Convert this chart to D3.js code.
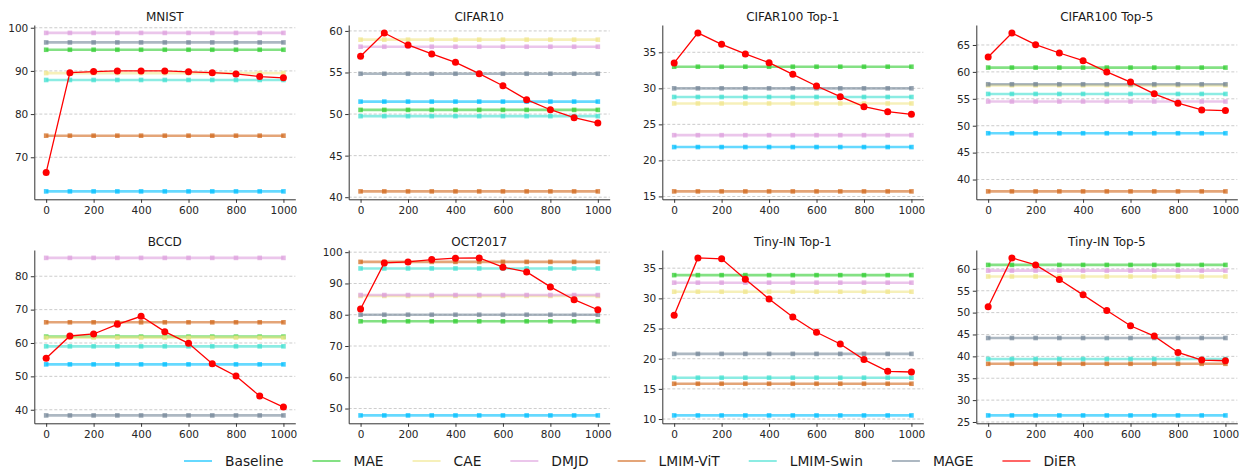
<!DOCTYPE html>
<html><head><meta charset="utf-8">
<script src="https://cdn.jsdelivr.net/npm/d3@7"></script>
<style>
body{margin:0;background:#fff}
svg text{font-family:"DejaVu Sans",sans-serif}
</style>
</head><body>
<svg id="chart" width="1240" height="469"></svg>
<script>
// ---- data ----
const steps = [0, 100, 200, 300, 400, 500, 600, 700, 800, 900, 1000];
const xTicks = [0, 200, 400, 600, 800, 1000];
const methods = ["Baseline", "MAE", "CAE", "DMJD", "LMIM-ViT", "LMIM-Swin", "MAGE", "DiER"];
const colors = ["#00bfff", "#32cd32", "#f0e68c", "#dda0dd", "#d2691e", "#40e0d0", "#778899", "#ff0000"];
const titles = ["MNIST", "CIFAR10", "CIFAR100 Top-1", "CIFAR100 Top-5", "BCCD", "OCT2017", "Tiny-IN Top-1", "Tiny-IN Top-5"];

// constant methods, order: Baseline, MAE, CAE, DMJD, LMIM-ViT, LMIM-Swin, MAGE
const mnistFlat   = [62.1, 94.9, 89.5, 98.8, 75.0, 87.9, 96.6];
const cifar10Flat = [51.5, 50.5, 58.95, 58.1, 40.7, 49.75, 54.85];
const c100t1Flat  = [21.85, 33.0, 27.9, 23.5, 15.7, 28.8, 30.0];
const c100t5Flat  = [48.6, 60.8, 57.5, 54.5, 37.8, 55.9, 57.7];
const bccdFlat    = [53.6, 61.9, 61.6, 85.5, 66.2, 59.0, 38.3];
const octFlat     = [47.8, 77.9, 86.0, 86.3, 96.9, 94.8, 80.0];
const tin1Flat    = [10.6, 33.85, 31.1, 32.6, 15.85, 16.85, 20.8];
const tin5Flat    = [26.5, 60.9, 58.25, 59.6, 38.3, 39.4, 44.2];

// DiER over steps
const mnistDiER   = [66.5, 89.6, 89.85, 90.0, 90.0, 90.0, 89.8, 89.6, 89.3, 88.7, 88.4];
const cifar10DiER = [56.95, 59.76, 58.31, 57.23, 56.22, 54.86, 53.41, 51.73, 50.52, 49.56, 48.92];
const c100t1DiER  = [33.52, 37.69, 36.11, 34.77, 33.56, 31.94, 30.32, 28.84, 27.45, 26.76, 26.39];
const c100t5DiER  = [62.76, 67.24, 65.06, 63.51, 62.08, 60.0, 58.1, 55.92, 54.18, 52.94, 52.81];
const bccdDiER    = [55.4, 62.1, 62.7, 65.6, 68.0, 63.4, 59.9, 53.8, 50.1, 44.1, 40.8];
const octDiER     = [81.84, 96.58, 96.9, 97.65, 98.08, 98.18, 95.2, 93.7, 88.9, 84.8, 81.6];
const tin1DiER    = [27.2, 36.71, 36.55, 33.17, 29.91, 26.92, 24.38, 22.44, 19.85, 17.91, 17.8];
const tin5DiER    = [51.32, 62.51, 60.91, 57.56, 54.06, 50.49, 46.99, 44.63, 40.9, 39.15, 39.0];

// y tick labels
const mnistTicks   = [70, 80, 90, 100];
const cifar10Ticks = [40, 45, 50, 55, 60];
const c100t1Ticks  = [15, 20, 25, 30, 35];
const c100t5Ticks  = [40, 45, 50, 55, 60, 65];
const bccdTicks    = [40, 50, 60, 70, 80];
const octTicks     = [50, 60, 70, 80, 90, 100];
const tin1Ticks    = [10, 15, 20, 25, 30, 35];
const tin5Ticks    = [25, 30, 35, 40, 45, 50, 55, 60];

const flats = [mnistFlat, cifar10Flat, c100t1Flat, c100t5Flat, bccdFlat, octFlat, tin1Flat, tin5Flat];
const diers = [mnistDiER, cifar10DiER, c100t1DiER, c100t5DiER, bccdDiER, octDiER, tin1DiER, tin5DiER];
const yTicksAll = [mnistTicks, cifar10Ticks, c100t1Ticks, c100t5Ticks, bccdTicks, octTicks, tin1Ticks, tin5Ticks];

// ---- layout ----
const colLefts = [34.3, 348.7, 662.3, 976.3];
const rowTops = [25, 250];
const rowBottoms = [199.3, 423.3];
const W = 261;

const svg = d3.select("#chart");

titles.forEach((title, p) => {
  const col = p % 4, row = Math.floor(p / 4);
  const left = colLefts[col], top = rowTops[row], bottom = rowBottoms[row];
  const flat = flats[p], dier = diers[p];
  const all = flat.concat(dier);
  const [mn, mx] = d3.extent(all);
  const m = (mx - mn) * 0.05;
  const x = d3.scaleLinear().domain([-50, 1050]).range([left, left + W]);
  const y = d3.scaleLinear().domain([mn - m, mx + m]).range([bottom, top]);

  const g = svg.append("g");

  // grid
  g.selectAll(".grid").data(yTicksAll[p]).enter().append("line")
    .attr("x1", left).attr("x2", left + W)
    .attr("y1", d => y(d)).attr("y2", d => y(d))
    .attr("stroke", "#b0b0b0").attr("stroke-width", 0.8)
    .attr("stroke-dasharray", "3,2").attr("opacity", 0.8);

  const line = d3.line().x(d => x(d[0])).y(d => y(d[1]));

  // flat methods
  flat.forEach((v, i) => {
    const pts = steps.map(s => [s, v]);
    g.append("path").attr("d", line(pts)).attr("fill", "none")
      .attr("stroke", colors[i]).attr("stroke-width", 2.6).attr("stroke-opacity", 0.6);
    g.selectAll(null).data(pts).enter().append("rect")
      .attr("x", d => x(d[0]) - 2.3).attr("y", d => y(d[1]) - 2.3)
      .attr("width", 4.6).attr("height", 4.6)
      .attr("fill", colors[i]).attr("fill-opacity", 0.75);
  });

  // DiER
  const dpts = steps.map((s, k) => [s, dier[k]]);
  g.append("path").attr("d", line(dpts)).attr("fill", "none")
    .attr("stroke", colors[7]).attr("stroke-width", 1.3);
  g.selectAll(null).data(dpts).enter().append("circle")
    .attr("cx", d => x(d[0])).attr("cy", d => y(d[1])).attr("r", 3.5)
    .attr("fill", colors[7]);

  // axes
  const ax = g.append("g").attr("transform", `translate(0,${bottom})`)
    .call(d3.axisBottom(x).tickValues(xTicks).tickFormat(d3.format("d"))
      .tickSize(3.5).tickPadding(3.5).tickSizeOuter(0));
  const ay = g.append("g").attr("transform", `translate(${left},0)`)
    .call(d3.axisLeft(y).tickValues(yTicksAll[p]).tickFormat(d3.format("d"))
      .tickSize(3.5).tickPadding(2.5).tickSizeOuter(0));
  [ax, ay].forEach(a => {
    a.selectAll("text").attr("font-size", 10.5).attr("fill", "#262626")
      .attr("font-family", "DejaVu Sans, sans-serif");
    a.selectAll("line").attr("stroke", "#333");
    a.select(".domain").attr("stroke", "#333").attr("stroke-width", 1);
  });

  // title
  g.append("text").attr("x", left + W / 2).attr("y", top - 4.3)
    .attr("text-anchor", "middle").attr("font-size", 12).attr("font-weight", "normal")
    .attr("fill", "#1a1a1a").text(title);
});

// legend
const leg = svg.append("g");
let lx = 184;
const ly = 461;
methods.forEach((name, i) => {
  leg.append("line").attr("x1", lx).attr("x2", lx + 28).attr("y1", ly).attr("y2", ly)
    .attr("stroke", colors[i]).attr("stroke-width", 2).attr("stroke-opacity", 0.6);
  const t = leg.append("text").attr("x", lx + 41).attr("y", ly).attr("dy", "0.36em")
    .attr("font-size", 13.8).attr("fill", "#1a1a1a").text(name);
  lx += 41 + t.node().getComputedTextLength() + 29;
});
</script>
</body></html>
